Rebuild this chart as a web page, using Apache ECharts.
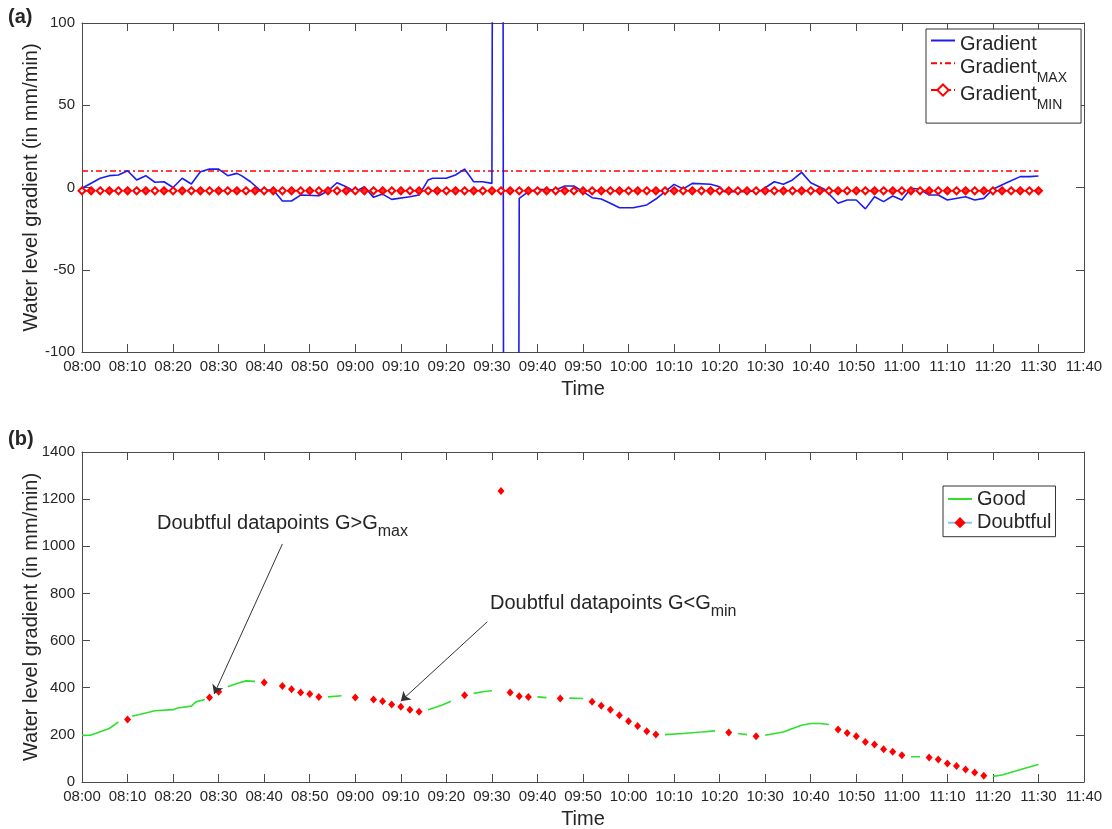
<!DOCTYPE html>
<html><head><meta charset="utf-8">
<script src="https://cdn.jsdelivr.net/npm/echarts@6/dist/echarts.min.js"></script>
<style>html,body{margin:0;padding:0;background:#fff}#c{width:1112px;height:829px}</style>
</head><body><div id="c"></div>
<script>
// ---------- data ----------
const xStart = '08:00';
const xEnd = '11:40';
const thresholdStart = '08:00';
const thresholdEnd = '11:30';
const gradMax = 10;
const gradMin = -2;

const gradTimes = ['08:00','08:04','08:06','08:08','08:10','08:12','08:14','08:16','08:18','08:20','08:22','08:24','08:26','08:28','08:30','08:32','08:34','08:35','08:37','08:39','08:42','08:44','08:46','08:48','08:52','08:54','08:56','08:58','09:00','09:02','09:04','09:06','09:08','09:12','09:14','09:16','09:17','09:20','09:22','09:24','09:26','09:28','09:30','09:31','09:32','09:33','09:35','09:36','09:38','09:40','09:44','09:46','09:48','09:50','09:52','09:54','09:56','09:58','10:01','10:04','10:06','10:08','10:10','10:12','10:14','10:18','10:20','10:21','10:25','10:29','10:32','10:34','10:36','10:38','10:40','10:43','10:46','10:48','10:50','10:52','10:54','10:56','10:58','11:00','11:02','11:04','11:06','11:08','11:10','11:14','11:16','11:18','11:20','11:23','11:26','11:28','11:30'];
const gradValues = [-0.5,5.6,7.2,7.6,10.2,4.6,7.2,3.2,3.5,0,5.6,2.1,9.6,11.2,11.2,7.2,8.6,7.2,3.5,-1.5,-1.5,-8.2,-8.2,-4.6,-5,-2.1,2.9,0.5,-2.5,0.5,-6,-4,-7.2,-5.6,-4.6,4.6,5.6,5.6,7.6,11.2,3.5,3.5,2.5,1230,1230,-1230,-1230,-6.6,-2.5,-1.1,-1.5,0.9,0.9,-2.5,-6.2,-7,-9.6,-12.3,-12.3,-10.6,-7,-2.5,1.9,-0.9,2.5,2,0.5,-2.5,-2.5,-2,3.5,2,4.6,9.2,2.9,-1.1,-9.6,-7.6,-7.6,-13,-5.6,-8.6,-5.2,-7.6,-0.5,-1.1,-4.6,-4.6,-7.6,-5.6,-7.6,-6.6,-1.1,2.9,6.6,6.6,7];

const goodTimes = ['08:00','08:02','08:06','08:08','08:09','08:11','08:14','08:16','08:20','08:21','08:24','08:25','08:27','08:28','08:32','08:34','08:36','08:38','08:39','08:54','08:57','08:58','09:16','09:19','09:21','09:22','09:26','09:28','09:30','09:31','09:40','09:42','09:43','09:47','09:50','09:51','10:08','10:12','10:16','10:19','10:20','10:24','10:26','10:27','10:30','10:34','10:36','10:38','10:40','10:42','10:44','10:45','11:02','11:04','11:05','11:20','11:22','11:25','11:28','11:30'];
const goodValues = [198,199,227,255,null,279,293,302,307,314,322,340,350,null,404,418,429,427,null,361,366,null,307,326,343,null,376,383,387,null,361,358,null,356,354,null,201,206,212,217,null,206,201,null,198,212,227,241,248,248,244,null,107,107,null,24,30,47,64,74];

const doubtfulTimes = ['08:10','08:28','08:30','08:40','08:44','08:46','08:48','08:50','08:52','09:00','09:04','09:06','09:08','09:10','09:12','09:14','09:24','09:32','09:34','09:36','09:38','09:45','09:52','09:54','09:56','09:58','10:00','10:02','10:04','10:06','10:22','10:28','10:46','10:48','10:50','10:52','10:54','10:56','10:58','11:00','11:06','11:08','11:10','11:12','11:14','11:16','11:18'];
const doubtfulValues = [265,359,383,422,407,393,380,373,361,359,350,343,329,319,307,298,368,1235,380,364,361,354,340,323,307,283,258,238,215,201,210,194,223,208,194,170,159,139,128,113,104,95,78,68,53,40,26];

const annotationTexts = ['Doubtful datapoints G>G', 'Doubtful datapoints G<G'];
const annotationSubs = ['max', 'min'];
const arrowFrom = [['08:44', 1010], ['09:29', 680]];
const arrowTo = [['08:29', 373], ['09:10', 343]];

// ---------- helpers ----------
const toMin = s => { const p = s.split(':').map(Number); return (p[0] - 8) * 60 + p[1]; };
const fmt = v => { const h = 8 + Math.floor(v / 60), m = v % 60; return String(h).padStart(2, '0') + ':' + String(m).padStart(2, '0'); };
const FONT = '"Liberation Sans", Arial, Helvetica, sans-serif';
const TXT = '#262626';
const AX = '#4a4a4a';

const gradData = gradTimes.map((t, i) => [toMin(t), gradValues[i]]);
const goodData = goodTimes.map((t, i) => [toMin(t), goodValues[i]]);
const doubtfulData = [];
doubtfulTimes.forEach((t, i) => { doubtfulData.push([toMin(t), doubtfulValues[i]]); doubtfulData.push([toMin(t), null]); });
const t0 = toMin(thresholdStart), t1 = toMin(thresholdEnd);
const minOpen = [], minFilled = [];
for (let t = t0; t <= t1; t += 2) { minOpen.push([t, gradMin]); if ((t / 2) % 2 === 1) minFilled.push([t, gradMin]); }

function xAxisDef(gi, pos, labels) {
  return {
    type: 'value', gridIndex: gi, position: pos, min: toMin(xStart), max: toMin(xEnd), interval: 10,
    axisLine: { show: true, onZero: false, lineStyle: { color: AX, width: 1 } },
    axisTick: { show: true, inside: true, length: 8, lineStyle: { color: AX } },
    axisLabel: { show: labels, margin: 7, color: TXT, fontSize: 15, fontFamily: FONT, formatter: fmt },
    splitLine: { show: false },
    name: labels ? 'Time' : '', nameLocation: 'middle', nameGap: 27, nameMoveOverlap: false,
    nameTextStyle: { fontSize: 20, fontFamily: FONT, color: TXT }
  };
}
function yAxisDef(gi, pos, labels, mn, mx, iv) {
  return {
    type: 'value', gridIndex: gi, position: pos, min: mn, max: mx, interval: iv,
    axisLine: { show: true, onZero: false, lineStyle: { color: AX, width: 1 } },
    axisTick: { show: true, inside: true, length: 8, lineStyle: { color: AX } },
    axisLabel: { show: labels, margin: 7, color: TXT, fontSize: 15, fontFamily: FONT, formatter: v => String(v) },
    splitLine: { show: false },
    name: labels ? 'Water level gradient (in mm/min)' : '', nameLocation: 'middle', nameGap: 41, nameMoveOverlap: false,
    nameTextStyle: { fontSize: 20, fontFamily: FONT, color: TXT }
  };
}
const dashDot = [6, 3, 2, 3];
const richBase = { fontFamily: FONT, color: TXT };
const noSym = { opacity: 0 };

const option = {
  animation: false,
  backgroundColor: '#fff',
  grid: [
    { left: 82, right: 28, top: 23, height: 329, outerBoundsMode: 'none' },
    { left: 82, right: 28, top: 452, height: 330, outerBoundsMode: 'none' }
  ],
  xAxis: [xAxisDef(0, 'bottom', true), xAxisDef(0, 'top', false), xAxisDef(1, 'bottom', true), xAxisDef(1, 'top', false)],
  yAxis: [yAxisDef(0, 'left', true, -100, 100, 50), yAxisDef(0, 'right', false, -100, 100, 50),
          yAxisDef(1, 'left', true, 0, 1400, 200), yAxisDef(1, 'right', false, 0, 1400, 200)],
  legend: [
    {
      data: [{ name: 'Gradient', itemStyle: noSym }, { name: 'Gradient_MAX', itemStyle: noSym }, { name: 'Gradient_MIN' }],
      orient: 'vertical', left: 926, top: 29,
      itemWidth: 24, itemHeight: 14, itemGap: -5.2, padding: [1.5, 14, 11, 4],
      borderColor: '#333', borderWidth: 1, backgroundColor: '#fff', selectedMode: false,
      formatter: n => n === 'Gradient' ? '{a|Gradient}' : (n === 'Gradient_MAX' ? '{m|Gradient}{s|MAX}' : '{m|Gradient}{s|MIN}'),
      textStyle: {
        fontSize: 20, fontFamily: FONT, color: TXT,
        rich: {
          a: Object.assign({ fontSize: 20, lineHeight: 20, padding: [4, 0, 4, 0], verticalAlign: 'top' }, richBase),
          m: Object.assign({ fontSize: 20, lineHeight: 20, padding: [4, 0, 0, 0], verticalAlign: 'top' }, richBase),
          s: Object.assign({ fontSize: 14, lineHeight: 14, padding: [18, 0, 0, 0], verticalAlign: 'top' }, richBase)
        }
      }
    },
    {
      data: [{ name: 'Good', itemStyle: noSym }, { name: 'Doubtful' }], orient: 'vertical', left: 943, top: 486,
      itemWidth: 24, itemHeight: 14, itemGap: 3.7, padding: [3, 4, 4, 4],
      borderColor: '#333', borderWidth: 1, backgroundColor: '#fff', selectedMode: false,
      textStyle: { fontSize: 20, lineHeight: 20, fontFamily: FONT, color: TXT }
    }
  ],
  graphic: [
    { type: 'text', left: 8, top: 7, style: { text: '(a)', font: 'bold 20px ' + FONT, fill: TXT } },
    { type: 'text', left: 8, top: 429, style: { text: '(b)', font: 'bold 20px ' + FONT, fill: TXT } },
    { type: 'text', left: 157, top: 513, style: {
        text: '{m|' + annotationTexts[0] + '}{s|' + annotationSubs[0] + '}',
        rich: { m: { fontSize: 20, lineHeight: 20, fontFamily: FONT, fill: TXT, verticalAlign: 'top' },
                s: { fontSize: 16, lineHeight: 16, fontFamily: FONT, fill: TXT, verticalAlign: 'top', padding: [11, 0, 0, 0] } } } },
    { type: 'text', left: 490, top: 593, style: {
        text: '{m|' + annotationTexts[1] + '}{s|' + annotationSubs[1] + '}',
        rich: { m: { fontSize: 20, lineHeight: 20, fontFamily: FONT, fill: TXT, verticalAlign: 'top' },
                s: { fontSize: 16, lineHeight: 16, fontFamily: FONT, fill: TXT, verticalAlign: 'top', padding: [11, 0, 0, 0] } } } }
  ],
  series: [
    { name: 'Gradient', type: 'line', xAxisIndex: 0, yAxisIndex: 0, data: gradData, showSymbol: false, symbol: 'none',
      clip: true, color: '#1c1cf0', lineStyle: { color: '#1c1cf0', width: 1.6 }, z: 3 },
    { name: 'Gradient_MAX', type: 'line', xAxisIndex: 0, yAxisIndex: 0, data: [[t0, gradMax], [t1, gradMax]], symbol: 'none',
      color: '#ff0000', lineStyle: { color: '#ff0000', width: 1.6, type: dashDot }, z: 2 },
    { name: 'Gradient_MIN', type: 'line', xAxisIndex: 0, yAxisIndex: 0, data: minOpen, symbol: 'emptyDiamond', symbolSize: 7,
      showAllSymbol: true, color: '#ff0000', itemStyle: { color: '#ff0000', borderWidth: 1.3 },
      lineStyle: { color: '#ff0000', width: 1.6, type: dashDot }, z: 4 },
    { name: 'minFilled', type: 'scatter', xAxisIndex: 0, yAxisIndex: 0, data: minFilled, symbol: 'diamond', symbolSize: 7,
      itemStyle: { color: '#ff0000' }, z: 5 },
    { name: 'Good', type: 'line', xAxisIndex: 2, yAxisIndex: 2, data: goodData, showSymbol: false, symbol: 'none',
      connectNulls: false, color: '#2fe02f', lineStyle: { color: '#2fe02f', width: 1.6 }, z: 3,
      markLine: {
        silent: true, symbol: ['none', 'arrow'], symbolSize: 9, animation: false,
        label: { show: false }, lineStyle: { color: '#333', width: 1, type: 'solid' },
        emphasis: { disabled: true },
        data: arrowFrom.map((f, i) => [{ coord: [toMin(f[0]), f[1]] }, { coord: [toMin(arrowTo[i][0]), arrowTo[i][1]] }])
      } },
    { name: 'Doubtful', type: 'line', xAxisIndex: 2, yAxisIndex: 2, data: doubtfulData, symbol: 'diamond', symbolSize: [7, 8],
      showSymbol: true, showAllSymbol: true, connectNulls: false, color: '#ff0000',
      itemStyle: { color: '#ff0000' }, lineStyle: { color: '#8cc0ea', width: 1 }, z: 4 }
  ]
};
const chart = echarts.init(document.getElementById('c'), null, { renderer: 'canvas' });
chart.setOption(option);
</script>
</body></html>
